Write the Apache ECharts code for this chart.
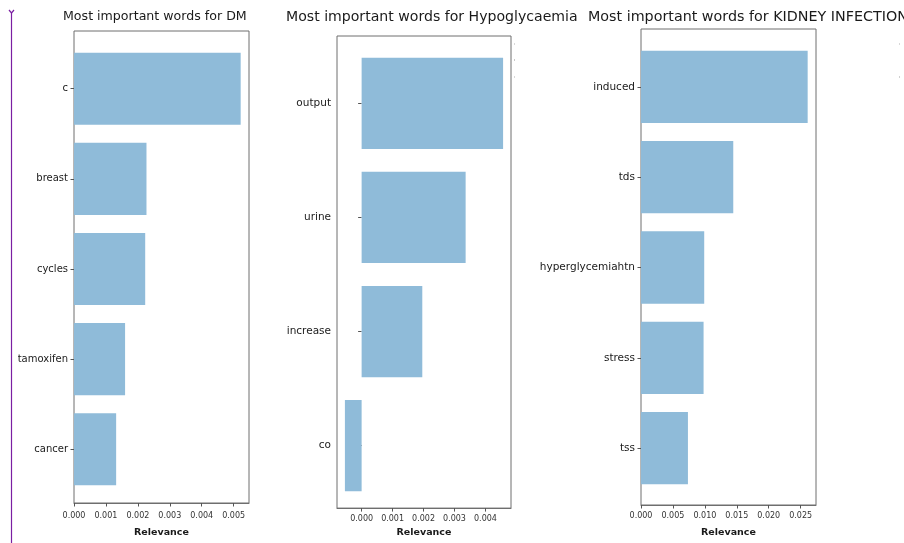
<!DOCTYPE html>
<html>
<head>
<meta charset="utf-8">
<script src="https://cdn.jsdelivr.net/npm/echarts@6/dist/echarts.min.js"></script>
<style>
  html, body { margin: 0; padding: 0; background: #ffffff; }
  #chart { width: 904px; height: 543px; }
</style>
</head>
<body>
<div id="chart"></div>
<script>
// Word relevance scores per diagnosis
const dmWords = ['c', 'breast', 'cycles', 'tamoxifen', 'cancer'];
const dmRelevance = [0.00522, 0.00227, 0.00223, 0.00160, 0.00132];
const dmTicks = [0, 0.001, 0.002, 0.003, 0.004, 0.005];

const hypoWords = ['output', 'urine', 'increase', 'co'];
const hypoRelevance = [0.00457, 0.00336, 0.00196, -0.00054];
const hypoTicks = [0, 0.001, 0.002, 0.003, 0.004];

const kidneyWords = ['induced', 'tds', 'hyperglycemiahtn', 'stress', 'tss'];
const kidneyRelevance = [0.0261, 0.01445, 0.0099, 0.0098, 0.00735];
const kidneyTicks = [0, 0.005, 0.010, 0.015, 0.020, 0.025];

const axisName = 'Relevance';

const panels = [
  { title: 'Most important words for DM', words: dmWords, values: dmRelevance, ticks: dmTicks,
    box: { left: 74, right: 249, top: 31, bottom: 507 }, titleLeft: 63, titleSize: 12.6, wordSize: 10,
    labelMargin: 9, nameGap: 25 },
  { title: 'Most important words for Hypoglycaemia', words: hypoWords, values: hypoRelevance, ticks: hypoTicks,
    box: { left: 337, right: 511, top: 36, bottom: 513 }, titleLeft: 286, titleSize: 14.1, wordSize: 10.5,
    labelMargin: 7, nameGap: 18 },
  { title: 'Most important words for KIDNEY INFECTION', words: kidneyWords, values: kidneyRelevance, ticks: kidneyTicks,
    box: { left: 641, right: 816, top: 29, bottom: 506 }, titleLeft: 588, titleSize: 14.3, wordSize: 10.5,
    labelMargin: 7, nameGap: 23 }
];

const FONT = 'DejaVu Sans';
const BAR_COLOR = '#8fbbd9';
const FRAME_COLOR = '#6e6e6e';

// Value range with 5% padding, held at zero when all values sit on one side of it
function valueRange(values) {
  const lo = Math.min(0, ...values);
  const hi = Math.max(0, ...values);
  const pad = (hi - lo) * 0.05;
  return { min: lo < 0 ? lo - pad : 0, max: hi > 0 ? hi + pad : 0 };
}

const titles = [], grids = [], xAxes = [], yAxes = [], series = [];

panels.forEach((p, i) => {
  const b = p.box;
  const width = b.right - b.left;
  const height = b.bottom - b.top;
  const n = p.words.length;
  // bars span n-0.2 units, padded 5% on each side
  const band = height / ((n - 0.2) * 1.1);
  const inset = (height - n * band) / 2;
  const range = valueRange(p.values);

  titles.push({
    text: p.title, left: p.titleLeft, top: 10, padding: 0,
    textStyle: { fontFamily: FONT, fontSize: p.titleSize, fontWeight: 'normal', color: '#1a1a1a' }
  });

  // frame grid carries the border and the value axis
  grids.push({ left: b.left, top: b.top, width: width, height: height,
    show: true, borderColor: FRAME_COLOR, borderWidth: 1, backgroundColor: 'transparent', containLabel: false });
  // bar grid is inset vertically so categories sit on matplotlib's spacing
  grids.push({ left: b.left, top: b.top + inset, width: width, height: n * band, containLabel: false });

  xAxes.push({
    type: 'value', gridIndex: 2 * i, min: range.min, max: range.max,
    name: axisName, nameLocation: 'middle', nameGap: p.nameGap,
    nameTextStyle: { fontFamily: FONT, fontSize: 9.5, fontWeight: 'bold', color: '#1a1a1a' },
    axisLine: { show: true, lineStyle: { color: FRAME_COLOR, width: 1 } },
    axisTick: { show: true, length: 3.5, customValues: p.ticks, lineStyle: { color: '#555' } },
    axisLabel: { show: true, customValues: p.ticks, margin: p.labelMargin,
      fontFamily: FONT, fontSize: 8, color: '#333',
      formatter: v => v.toFixed(3) },
    splitLine: { show: false }
  });
  xAxes.push({ type: 'value', gridIndex: 2 * i + 1, min: range.min, max: range.max, show: false });

  yAxes.push({ type: 'value', gridIndex: 2 * i, show: false, min: 0, max: 1 });
  yAxes.push({
    type: 'category', gridIndex: 2 * i + 1, data: p.words, inverse: true,
    axisLine: { show: false },
    axisTick: { show: true, alignWithLabel: true, length: 3.5, lineStyle: { color: '#555' } },
    axisLabel: { margin: 6, fontFamily: FONT, fontSize: p.wordSize, color: '#1a1a1a' },
    splitLine: { show: false }
  });

  series.push({
    type: 'bar', xAxisIndex: 2 * i + 1, yAxisIndex: 2 * i + 1,
    data: p.values, barCategoryGap: '20%',
    itemStyle: { color: BAR_COLOR },
    silent: true, animation: false
  });
});

const chart = echarts.init(document.getElementById('chart'), null, { renderer: 'canvas' });
chart.setOption({
  backgroundColor: '#ffffff',
  animation: false,
  title: titles,
  grid: grids,
  xAxis: xAxes,
  yAxis: yAxes,
  series: series,
  graphic: [
    // vertical purple rule down the left margin
    { type: 'polyline', silent: true,
      shape: { points: [[11.5, 13], [11.5, 543]] },
      style: { stroke: '#7b1fa2', lineWidth: 1.2, fill: null } },
    { type: 'polyline', silent: true,
      shape: { points: [[9, 10], [11.5, 13], [14, 10]] },
      style: { stroke: '#7b1fa2', lineWidth: 1.2, fill: null } },
    // faint specks beside the right-hand frames
    { type: 'rect', silent: true, shape: { x: 514, y: 43, width: 1, height: 2 }, style: { fill: '#d8d8d8' } },
    { type: 'rect', silent: true, shape: { x: 514, y: 59, width: 1, height: 2 }, style: { fill: '#c8c8c8' } },
    { type: 'rect', silent: true, shape: { x: 514, y: 76, width: 1, height: 2 }, style: { fill: '#d8d8d8' } },
    { type: 'rect', silent: true, shape: { x: 899, y: 43, width: 1, height: 2 }, style: { fill: '#d8d8d8' } },
    { type: 'rect', silent: true, shape: { x: 899, y: 76, width: 1, height: 2 }, style: { fill: '#d0d0d0' } }
  ]
});
</script>
</body>
</html>
